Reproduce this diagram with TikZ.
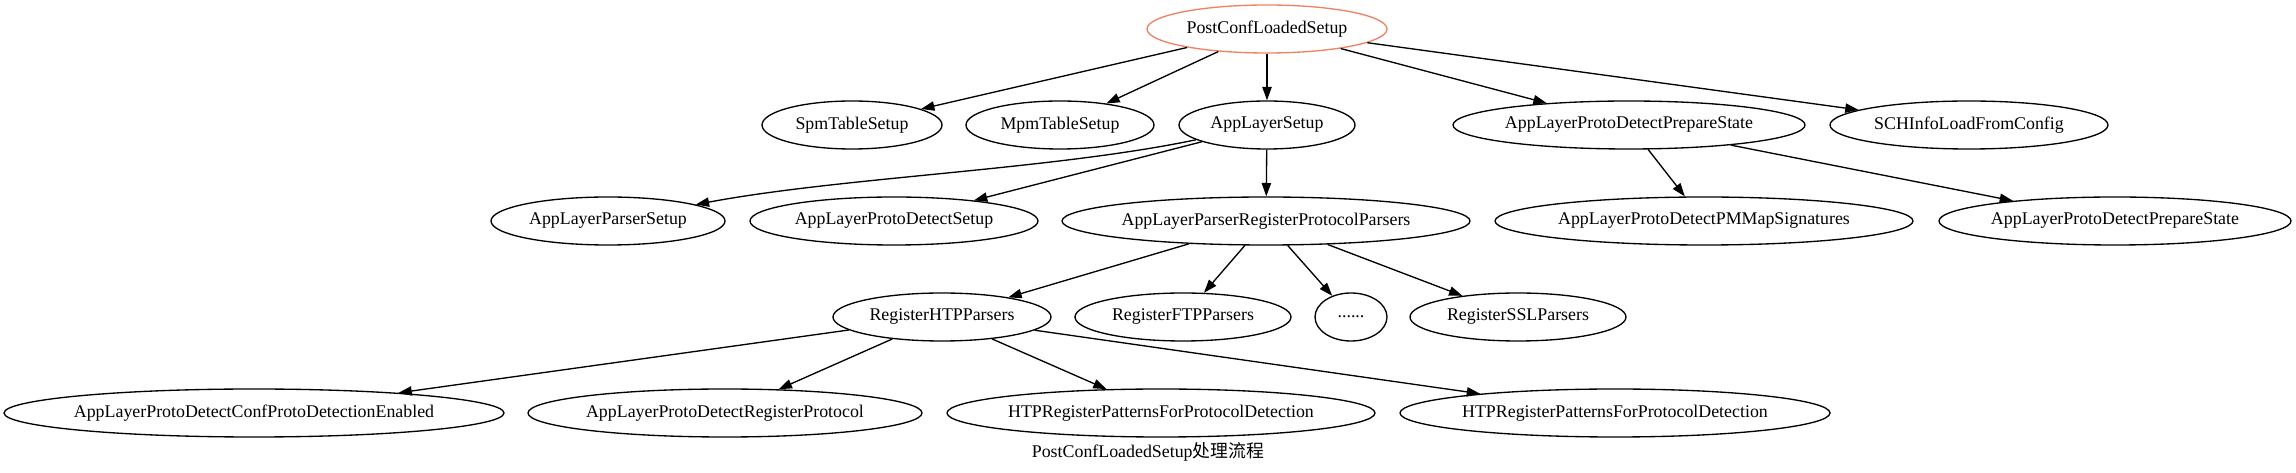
\documentclass[tikz,border=0pt]{standalone}
\usepackage{fontspec}
\setmainfont{Liberation Serif}
\newfontfamily\cjkfont{Noto Sans CJK SC}
\usetikzlibrary{arrows.meta,shapes.geometric}
\definecolor{salmonb}{RGB}{238,130,98}
\begin{document}
\begin{tikzpicture}[x=0.75pt,y=-0.75pt,
  gvnode/.style={draw, line width=1pt, shape=ellipse, inner sep=0pt, minimum height=36pt,
    font=\fontsize{13.4}{16}\selectfont,
    execute at begin node={\hbox to 0pt\bgroup\hss},
    execute at end node={\hss\egroup}},
  gvedge/.style={draw, line width=1pt, -{Triangle[length=10pt,width=7pt]}}]
\useasboundingbox (0,0) rectangle (2296,473);
% rank 0
\node[gvnode, draw=salmonb, minimum width=180pt] (pc) at (1267,29) {PostConfLoadedSetup};
% rank 1
\node[gvnode, minimum width=135pt] (spm) at (852,125) {SpmTableSetup};
\node[gvnode, minimum width=141pt] (mpm) at (1060,125) {MpmTableSetup};
\node[gvnode, minimum width=132pt] (als) at (1267,125) {AppLayerSetup};
\node[gvnode, minimum width=264pt] (pds) at (1629,125) {AppLayerProtoDetectPrepareState};
\node[gvnode, minimum width=208.5pt] (sch) at (1969,125) {SCHInfoLoadFromConfig};
% rank 2
\node[gvnode, minimum width=175.5pt] (aps) at (608,221) {AppLayerParserSetup};
\node[gvnode, minimum width=216pt] (apds) at (894,221) {AppLayerProtoDetectSetup};
\node[gvnode, minimum width=306pt] (arpp) at (1266,221) {AppLayerParserRegisterProtocolParsers};
\node[gvnode, minimum width=313.5pt] (pmm) at (1704,221) {AppLayerProtoDetectPMMapSignatures};
\node[gvnode, minimum width=264pt] (pds2) at (2115,221) {AppLayerProtoDetectPrepareState};
% rank 3
\node[gvnode, minimum width=163.5pt] (rhp) at (942,317) {RegisterHTPParsers};
\node[gvnode, minimum width=162pt] (ftp) at (1183,317) {RegisterFTPParsers};
\node[gvnode, minimum width=54pt] (dots) at (1351,317) {......};
\node[gvnode, minimum width=162pt] (ssl) at (1518,317) {RegisterSSLParsers};
% rank 4
\node[gvnode, minimum width=375pt] (conf) at (254,413) {AppLayerProtoDetectConfProtoDetectionEnabled};
\node[gvnode, minimum width=295.5pt] (regp) at (725,413) {AppLayerProtoDetectRegisterProtocol};
\node[gvnode, minimum width=321pt] (htpa) at (1161,413) {HTPRegisterPatternsForProtocolDetection};
\node[gvnode, minimum width=322.5pt] (htpb) at (1615,413) {HTPRegisterPatternsForProtocolDetection};
% caption
\node[font=\fontsize{13.4}{16}\selectfont, inner sep=0pt] (cap) at (1148,452) {PostConfLoadedSetup{\cjkfont 处理流程}};
% edges
\draw[gvedge] (pc) -- (spm);
\draw[gvedge] (pc) -- (mpm);
\draw[gvedge] (pc) -- (als);
\draw[gvedge] (pc) -- (pds);
\draw[gvedge] (pc) -- (sch);
\draw[gvedge] (als) .. controls (1051,170) and (843,177) .. (aps);
\draw[gvedge] (als) -- (apds);
\draw[gvedge] (als) -- (arpp);
\draw[gvedge] (pds) -- (pmm);
\draw[gvedge] (pds) -- (pds2);
\draw[gvedge] (arpp) -- (rhp);
\draw[gvedge] (arpp) -- (ftp);
\draw[gvedge] (arpp) -- (dots);
\draw[gvedge] (arpp) -- (ssl);
\draw[gvedge] (rhp) -- (conf);
\draw[gvedge] (rhp) -- (regp);
\draw[gvedge] (rhp) -- (htpa);
\draw[gvedge] (rhp) -- (htpb);
\end{tikzpicture}
\end{document}
